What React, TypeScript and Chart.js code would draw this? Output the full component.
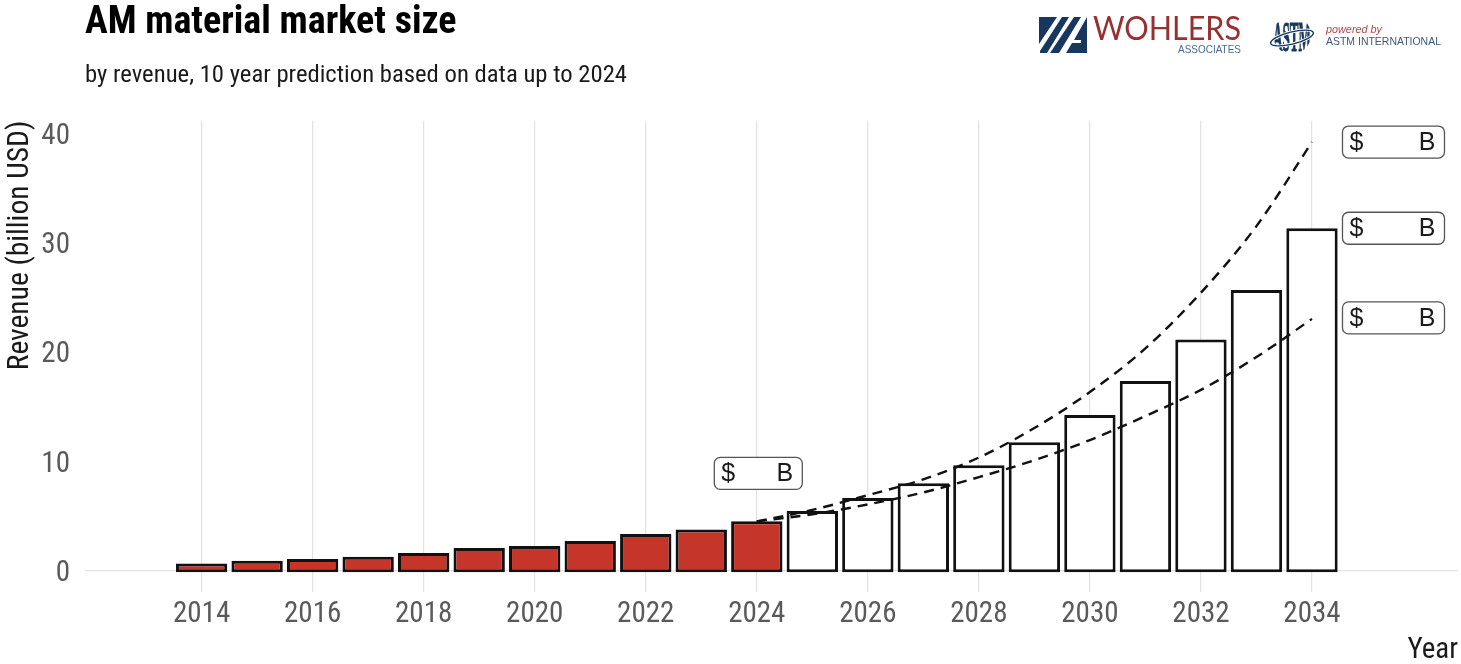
import React, { useEffect, useRef } from "react";
import { Chart, registerables } from "chart.js";

Chart.register(...registerables);

const barYears = [2014, 2015, 2016, 2017, 2018, 2019, 2020, 2021, 2022, 2023, 2024, 2025, 2026, 2027, 2028, 2029, 2030, 2031, 2032, 2033, 2034];
const revenue = [0.7, 0.95, 1.1, 1.3, 1.65, 2.1, 2.3, 2.75, 3.4, 3.8, 4.55, 5.5, 6.7, 8.05, 9.7, 11.8, 14.3, 17.4, 21.2, 25.75, 31.4];
const lastActualYear = 2024;
const forecastYears = [2024, 2025, 2026, 2027, 2028, 2029, 2030, 2031, 2032, 2033, 2034];
const upperForecast = [4.55, 5.6, 6.95, 8.4, 10.4, 13.1, 16.4, 20.4, 25.5, 31.6, 39.3];
const lowerForecast = [4.55, 5.2, 6.1, 7.2, 8.6, 10.15, 12.0, 14.2, 16.6, 19.6, 23.1];
const xTickValues = [2014, 2016, 2018, 2020, 2022, 2024, 2026, 2028, 2030, 2032, 2034];
const yTickValues = [0, 10, 20, 30, 40];
const calloutPrefix = "$";
const calloutSuffix = "B";
const titleText = "AM material market size";
const subtitleText = "by revenue, 10 year prediction based on data up to 2024";
const xAxisTitle = "Year";
const yAxisTitle = "Revenue (billion USD)";

const NARROW = '"Roboto Condensed", "Liberation Sans", sans-serif';
const RED = "#c5352a";
const INK = "#111111";
const GRID = "#e2e2e2";
const TICK = "#5a5a5a";

function drawCallout(ctx: CanvasRenderingContext2D, cx: number, cy: number, w: number) {
  const h = 32;
  ctx.beginPath();
  ctx.roundRect(cx - w / 2, cy - h / 2, w, h, 6);
  ctx.fillStyle = "#ffffff";
  ctx.fill();
  ctx.lineWidth = 1.3;
  ctx.strokeStyle = "#555555";
  ctx.stroke();
  ctx.fillStyle = "#1a1a1a";
  ctx.font = '25px "Liberation Sans", sans-serif';
  ctx.textBaseline = "middle";
  ctx.textAlign = "left";
  ctx.fillText(calloutPrefix, cx - w / 2 + 7, cy + 1);
  ctx.textAlign = "right";
  ctx.fillText(calloutSuffix, cx + w / 2 - 9, cy + 1);
}

const calloutPlugin = {
  id: "callouts",
  beforeDraw(chart: any) {
    // nudge the y tick labels so their digits centre on the tick position
    chart.scales.y.getLabelItems(chart.chartArea).forEach((item: any) => {
      if (!item.options.nudged) {
        item.options.translation[1] += 2.5;
        item.options.nudged = true;
      }
    });
  },
  afterDatasetsDraw(chart: any) {
    const { ctx, scales } = chart;
    const x = scales.x;
    const y = scales.y;
    ctx.save();
    const n = forecastYears.length - 1;
    const endX = x.getPixelForValue(forecastYears[n]) + 81.5;
    drawCallout(ctx, endX, y.getPixelForValue(upperForecast[n]), 102);
    drawCallout(ctx, endX, y.getPixelForValue(revenue[revenue.length - 1]), 102);
    drawCallout(ctx, endX, y.getPixelForValue(lowerForecast[n]) - 1, 102);
    const i = barYears.indexOf(lastActualYear);
    drawCallout(ctx, x.getPixelForValue(lastActualYear) + 1.5, y.getPixelForValue(revenue[i]) - 48, 88);
    ctx.restore();
  },
};

function Logos() {
  const navy = "#17375e";
  return (
    <svg width={1461} height={70} style={{ position: "absolute", left: 0, top: 0, pointerEvents: "none" }}>
      <defs>
        <clipPath id="globe">
          <circle cx={1292} cy={35} r={19} />
        </clipPath>
      </defs>
      <g fill={navy}>
        <polygon points="1039,17 1057,17 1039,44" />
        <polygon points="1062,17 1069,17 1047,53 1040,53 1040,51" />
        <polygon points="1074,17 1081,17 1059,53 1050,53" />
        <polygon points="1087,17 1087,53 1066,53 1072,43 1081,43 1081,40 1074,40" />
      </g>
      <text x={1093} y={40} textLength={148} lengthAdjust="spacingAndGlyphs" fontFamily='Lato, "Liberation Sans", sans-serif' fontWeight={400} fontSize={33} fill="#97302f">WOHLERS</text>
      <text x={1178} y={53} textLength={63} lengthAdjust="spacingAndGlyphs" fontFamily='"Liberation Sans", sans-serif' fontSize={11} fill="#4b6b90">ASSOCIATES</text>
      <g clipPath="url(#globe)">
        <text transform="translate(1292 51) scale(1 2.15)" textAnchor="middle" textLength={38} lengthAdjust="spacingAndGlyphs" fontFamily='"Liberation Serif", serif' fontWeight="bold" fontSize={20} fill={navy} stroke={navy} strokeWidth={0.5}>ASTM</text>
      </g>
      <ellipse cx={1292} cy={38} rx={22} ry={6} fill="none" stroke="#ffffff" strokeWidth={3} transform="rotate(-14 1292 38)" />
      <ellipse cx={1292} cy={38} rx={22} ry={6} fill="none" stroke={navy} strokeWidth={1.4} transform="rotate(-14 1292 38)" />
      <text x={1326} y={33} textLength={56} lengthAdjust="spacingAndGlyphs" fontFamily='"Liberation Sans", sans-serif' fontStyle="italic" fontSize={11} fill="#b2474a">powered by</text>
      <text x={1326} y={45} textLength={115} lengthAdjust="spacingAndGlyphs" fontFamily='"Liberation Sans", sans-serif' fontSize={11.5} fill="#3f5878">ASTM INTERNATIONAL</text>
    </svg>
  );
}

export default function App() {
  const ref = useRef<HTMLCanvasElement>(null);

  useEffect(() => {
    document.body.style.margin = "0";
    document.body.style.background = "#ffffff";
    const chart = new Chart(ref.current!, {
      type: "bar",
      data: {
        datasets: [
          {
            type: "line",
            data: forecastYears.map((x, i) => ({ x, y: upperForecast[i] })),
            borderColor: INK,
            borderWidth: 2.4,
            borderDash: [10, 7],
            pointRadius: 0,
            cubicInterpolationMode: "monotone",
            order: 0,
          },
          {
            type: "line",
            data: forecastYears.map((x, i) => ({ x, y: lowerForecast[i] })),
            borderColor: INK,
            borderWidth: 2.4,
            borderDash: [10, 7],
            pointRadius: 0,
            cubicInterpolationMode: "monotone",
            order: 0,
          },
          {
            type: "bar",
            data: barYears.map((x, i) => ({ x, y: revenue[i] })),
            backgroundColor: barYears.map((yr) => (yr <= lastActualYear ? RED : "#ffffff")),
            borderColor: INK,
            borderWidth: 3,
            borderSkipped: false,
            base: -0.1,
            barPercentage: 0.925,
            categoryPercentage: 1,
            order: 1,
          },
        ],
      } as any,
      options: {
        responsive: false,
        animation: false,
        layout: { padding: { left: 0, right: 3, top: 0, bottom: 0 } },
        plugins: {
          legend: { display: false },
          tooltip: { enabled: false },
          title: {
            display: true,
            text: titleText,
            align: "start",
            fullSize: false,
            color: "#000000",
            font: { family: NARROW, size: 38, weight: "bold" },
            padding: { top: 1, bottom: 14 },
          },
          subtitle: {
            display: true,
            text: subtitleText,
            align: "start",
            fullSize: false,
            color: "#1a1a1a",
            font: { family: NARROW, size: 24.7 },
            padding: { top: 0, bottom: 30.4 },
          },
        },
        scales: {
          x: {
            type: "linear",
            offset: false,
            min: 2011.9,
            max: 2036.63,
            afterBuildTicks: (s: any) => {
              s.ticks = xTickValues.map((value) => ({ value }));
            },
            afterFit: (s: any) => {
              s.height = 72;
            },
            border: { display: false },
            grid: { offset: false, color: GRID, lineWidth: 1.2, drawTicks: false },
            ticks: {
              color: TICK,
              padding: 5,
              maxRotation: 0,
              autoSkip: false,
              font: { family: NARROW, size: 29 },
              callback: (v: any) => String(v),
            },
            title: {
              display: true,
              text: xAxisTitle,
              align: "end",
              color: "#1a1a1a",
              font: { family: NARROW, size: 29 },
              padding: { top: 0, bottom: -4 },
            },
          },
          y: {
            type: "linear",
            min: -1.92,
            max: 41.26,
            afterBuildTicks: (s: any) => {
              s.ticks = yTickValues.map((value) => ({ value }));
            },
            afterFit: (s: any) => {
              s.width = 85;
            },
            border: { display: false },
            grid: {
              color: (c: any) => (c.tick && c.tick.value === 0 ? GRID : "rgba(0,0,0,0)"),
              lineWidth: 1.2,
              drawTicks: false,
            },
            ticks: {
              color: TICK,
              padding: 15,
              font: { family: NARROW, size: 29 },
            },
            title: {
              display: true,
              text: yAxisTitle,
              align: "end",
              color: "#1a1a1a",
              font: { family: NARROW, size: 29.5 },
              padding: { top: 3, bottom: 0 },
            },
          },
        },
      },
      plugins: [calloutPlugin],
    } as any);
    return () => chart.destroy();
  }, []);

  return (
    <div style={{ position: "relative", width: 1461, height: 664 }}>
      <canvas ref={ref} width={1461} height={664} style={{ display: "block" }} />
      <Logos />
    </div>
  );
}
